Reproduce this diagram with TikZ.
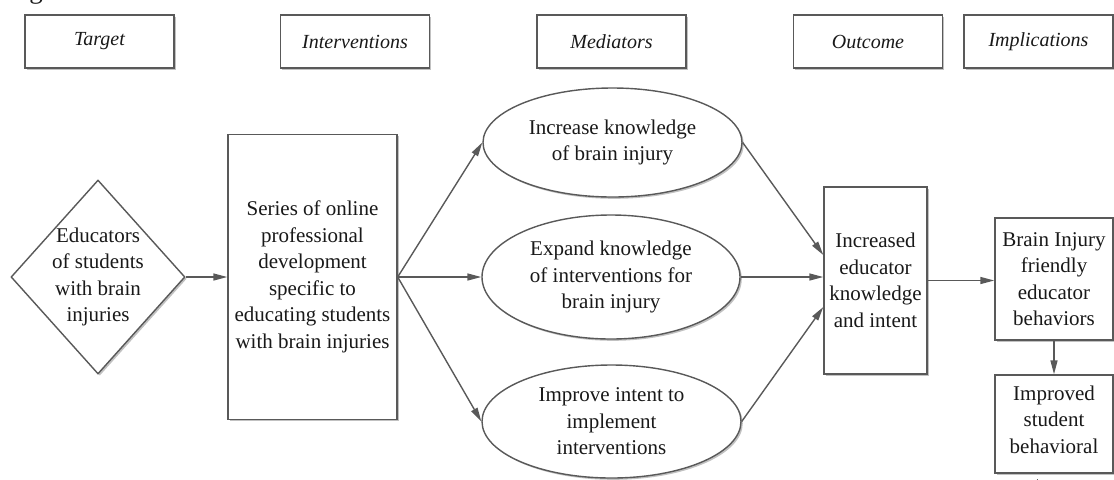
\documentclass[tikz,border=0pt]{standalone}
\usepackage{fontspec}
\setmainfont{Liberation Serif}
\usetikzlibrary{shapes.geometric,arrows.meta,shadows}

\begin{document}
\begin{tikzpicture}[x=0.5pt,y=-0.5pt,
    >={Triangle[length=7pt,width=3.5pt]},
    every node/.style={font=\fontsize{10.5}{13.25}\selectfont, align=center, text=black!90},
    shadowed/.style={drop shadow={shadow xshift=0.9pt,shadow yshift=-0.9pt,opacity=0.35,fill=black!70}},
    header/.style={draw=black!65, line width=0.7pt, fill=white, shadowed, minimum width=74.5pt, minimum height=26.5pt, font=\fontsize{10}{12}\selectfont\itshape},
    textbox/.style={draw=black!65, line width=0.7pt, fill=white, shadowed, inner sep=2pt},
    oval/.style={ellipse, draw=black!65, line width=0.7pt, fill=white, shadowed, inner sep=0pt},
    dia/.style={diamond, aspect=0.9, draw=black!65, line width=0.7pt, fill=white, shadowed, inner sep=-1pt}]
    \useasboundingbox (0,0) rectangle (1114,479);

    \node[anchor=base west, inner sep=0pt, font=\fontsize{13.5}{16}\selectfont] (title) at (-1,-2) {Logic Model};

    % column heads
    \node[header] (target) at (99.5,41.5) {Target};
    \node[header] (interv) at (355,41.5) {Interventions};
    \node[header] (medi) at (611.5,41.5) {Mediators};
    \node[header] (outcome) at (868,41.5) {Outcome};
    \node[header] (impl) at (1038.5,41.5) {Implications};

    \node[dia, minimum width=87pt, minimum height=97pt] (educators) at (98,277) {Educators\\of students\\with brain\\injuries};
    \node[textbox, minimum width=84.5pt, minimum height=142.5pt] (series) at (312.5,277) {Series of online\\professional\\development\\specific to\\educating students\\with brain injuries};

    % mediators
    \node[oval, minimum width=129.5pt, minimum height=54.5pt] (know) at (612.5,142.5) {Increase knowledge\\of brain injury};
    \node[oval, minimum width=129pt, minimum height=62pt] (expand) at (611,277) {Expand knowledge\\of interventions for\\brain injury};
    \node[oval, minimum width=129.5pt, minimum height=56.5pt] (intent) at (611.5,421.5) {Improve intent to\\implement\\interventions};

    \node[textbox, minimum width=51.5pt, minimum height=93.5pt] (increased) at (875.5,280.5) {Increased\\educator\\knowledge\\and intent};
    \node[textbox, minimum width=59pt, minimum height=61pt] (friendly) at (1054,279) {Brain Injury\\friendly\\educator\\behaviors};
    \node[textbox, minimum width=59pt, minimum height=49pt] (improved) at (1054,424) {};
    \node[anchor=north, inner sep=0pt] (improvedtext) at ([yshift=-5.5pt]improved.north) {Improved\\student\\behavioral\\[6pt]outcomes};

    \path[every edge/.append style={->, draw=black!65, line width=0.7pt}]
        (educators.east) edge (educators.east -| series.west)
        (series.east) edge (know.west)
        (series.east) edge (expand.west)
        (series.east) edge (intent.west)
        (know.east) edge ([yshift=12.75pt]increased.west)
        (expand.east) edge (expand.east -| increased.west)
        (intent.east) edge ([yshift=-13.25pt]increased.west)
        (increased.east) edge (increased.east -| friendly.west)
        (friendly.south) edge (improved.north)
        ;
\end{tikzpicture}
\end{document}
